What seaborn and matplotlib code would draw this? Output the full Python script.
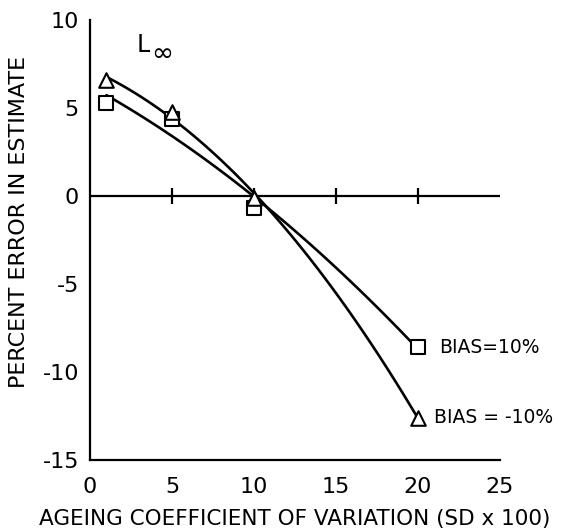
import matplotlib
matplotlib.use("Agg")
import matplotlib.pyplot as plt
import seaborn as sns
import pandas as pd

# data
cv = [1, 5, 10, 20]
err_bias_pos = [5.3, 4.4, -0.7, -8.6]     # squares, BIAS=10%
err_bias_neg = [6.6, 4.8, -0.1, -12.6]    # triangles, BIAS=-10%
xticks = [0, 5, 10, 15, 20, 25]
yticks = [-15, -10, -5, 0, 5, 10]
ytick_labels = ["-15", "-10", "-5", "0", "5", "10"]
label_pos = "BIAS=10%"
label_neg = "BIAS = -10%"

sns.set_style("white")
plt.rcParams['font.family'] = ['DejaVu Sans']
plt.rcParams['text.color'] = 'black'
plt.rcParams['axes.labelcolor'] = 'black'
plt.rcParams['xtick.color'] = 'black'
plt.rcParams['ytick.color'] = 'black'

fig = plt.figure(figsize=(5.63, 5.31), dpi=100)
ax = fig.add_axes([0.16, 0.134, 0.728, 0.828])

df_pos = pd.DataFrame({"x": cv, "y": err_bias_pos})
df_neg = pd.DataFrame({"x": cv, "y": err_bias_neg})

ax.axhline(0, color="black", lw=1.6, zorder=1)
ax.plot(xticks[1:-1], [0] * len(xticks[1:-1]), linestyle="none", marker="|",
        ms=11, mew=1.6, color="black", zorder=1)

for df, mk in [(df_pos, "s"), (df_neg, "^")]:
    sns.regplot(data=df, x="x", y="y", order=2, ci=None, scatter=False,
                color="black", line_kws={"lw": 1.9}, ax=ax)
    sns.scatterplot(data=df, x="x", y="y", marker=mk, s=110, facecolor="white",
                    edgecolor="black", linewidth=1.5, ax=ax, zorder=5)

ax.text(21.3, err_bias_pos[-1], label_pos, fontsize=13.5, va="center", ha="left")
ax.text(20.95, err_bias_neg[-1], label_neg, fontsize=13.5, va="center", ha="left")
ax.text(2.85, 8.6, "L", fontsize=17, va="center", ha="left")
ax.text(3.75, 8.1, "\u221e", fontsize=19, va="center", ha="left")

ax.set_xlim(0, 25)
ax.set_ylim(-15, 10)
ax.set_xticks(xticks)
ax.set_xticklabels([str(t) for t in xticks])
ax.set_yticks(yticks)
ax.set_yticklabels(ytick_labels)
ax.tick_params(direction="in", length=10, width=1.6, labelsize=16)
ax.tick_params(axis="x", pad=12)
ax.tick_params(axis="y", pad=8)
ax.set_xlabel("AGEING COEFFICIENT OF VARIATION (SD x 100)", fontsize=15.5, labelpad=9)
ax.set_ylabel("PERCENT ERROR IN ESTIMATE", fontsize=16)
ax.yaxis.set_label_coords(-0.15, 0.54)
sns.despine(ax=ax)
for s in ["left", "bottom"]:
    ax.spines[s].set_linewidth(1.6)
    ax.spines[s].set_color("black")

fig.savefig("out.png", dpi=100)
